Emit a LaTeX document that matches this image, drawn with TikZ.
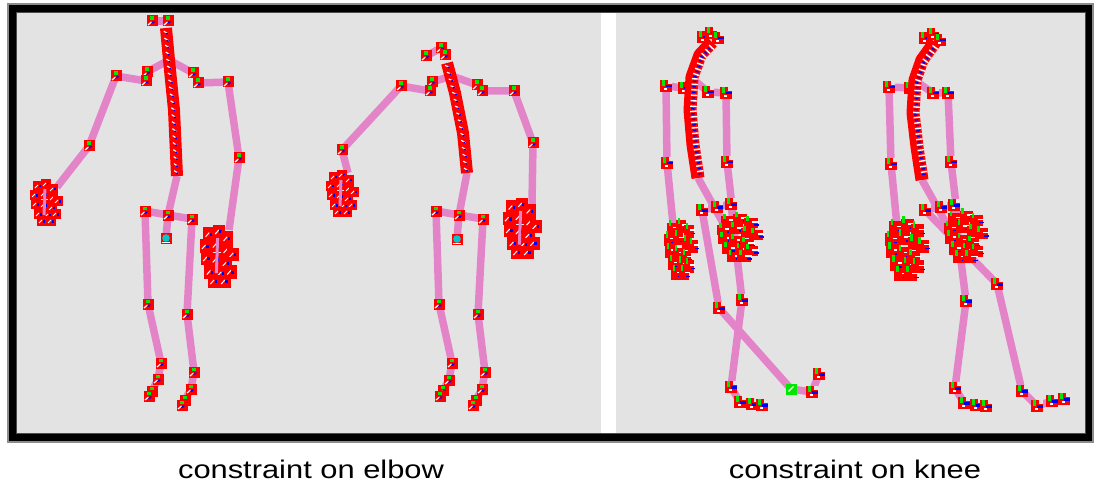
\documentclass[tikz,border=0pt]{standalone}
\usepackage{fontspec}
\setmainfont{Liberation Sans}
\usetikzlibrary{decorations.markings}
\definecolor{jred}{RGB}{255,0,0}
\definecolor{jgreen}{RGB}{0,232,0}
\definecolor{jblue}{RGB}{0,0,240}
\definecolor{jcyan}{RGB}{0,200,205}
\definecolor{bonepink}{RGB}{228,132,200}
\definecolor{floorgray}{RGB}{227,227,227}
\pgfdeclarelayer{bg}
\pgfdeclarelayer{bonelayer}
\pgfsetlayers{bg,bonelayer,main}
\tikzset{
  % joint marker, first pair of figures
  jt/.style={fill=jred, minimum size=11pt, inner sep=0pt, outer sep=0pt, path picture={
     \fill[jgreen] ([xshift=3.5pt,yshift=-1pt]path picture bounding box.north west) rectangle ++(3.5pt,-3.5pt);
     \draw[white,line width=1.2pt] ([xshift=1.5pt,yshift=1.5pt]path picture bounding box.south west) -- ++(3.5pt,3pt);
     \fill[jblue] ([xshift=4.5pt,yshift=3pt]path picture bounding box.south west) -- ++(2.5pt,0pt) -- ++(1.5pt,2pt) -- ++(-2.5pt,0pt) -- cycle;
  }},
  % joint marker, second pair of figures
  jv/.style={fill=jred, minimum size=12pt, inner sep=0pt, outer sep=0pt, path picture={
     \fill[floorgray] ([xshift=-4pt,yshift=-4pt]path picture bounding box.north east) rectangle (path picture bounding box.north east);
     \fill[jgreen] ([xshift=2pt]path picture bounding box.north west) rectangle ++(2.5pt,-6pt);
     \fill[jblue] ([xshift=-6pt,yshift=4.5pt]path picture bounding box.south east) rectangle ++(5.5pt,2.4pt);
     \draw[white,line width=1.3pt] ([xshift=4pt,yshift=3pt]path picture bounding box.south west) -- ++(3pt,0pt);
  }},
  jg/.style={fill=jgreen, minimum size=11pt, inner sep=0pt, outer sep=0pt, path picture={
     \draw[white,line width=1.3pt] ([xshift=3pt,yshift=3pt]path picture bounding box.south west) -- ++(5pt,5pt);
  }},
  rootc/.style={fill=jred, minimum size=11pt, inner sep=0pt, outer sep=0pt, path picture={
     \fill[jcyan] (path picture bounding box.center) circle (3.8pt);
     \draw[white,line width=1pt] ([xshift=1pt,yshift=1.5pt]path picture bounding box.south west) -- ++(8pt,0pt);
  }},
  rootw/.style={fill=jred, minimum size=12pt, inner sep=0pt, outer sep=0pt, path picture={
     \fill[white] ([xshift=2pt,yshift=2pt]path picture bounding box.south west) rectangle ([xshift=-2pt,yshift=-3pt]path picture bounding box.north east);
  }},
  bone/.style={draw=bonepink, line width=7.5pt, line join=round},
  spineA/.style={draw=jred, line width=12pt, line join=round, postaction={decorate}, decoration={markings,
     mark=between positions 0.03 and 0.98 step 7pt with {
        \draw[white,line width=1.1pt] (-1.5pt,-2.5pt) -- (1.5pt,1.5pt);
        \fill[jblue] (0.5pt,-0.5pt) rectangle (2pt,1.5pt);}}},
  spineB/.style={draw=jred, line width=13pt, line join=round, postaction={decorate}, decoration={markings,
     mark=between positions 0.03 and 0.98 step 5.5pt with {
        \draw[white,line width=1.4pt] (0pt,0pt) -- (0pt,6.5pt);
        \draw[jblue,line width=1.4pt] (2.5pt,1pt) -- (2.5pt,4.5pt);}}},
  % clusters of markers for the hands
  handA/.pic={
    \foreach \dx/\dy in {-9/-17,-1/-19,6/-14,-12/-8,-3/-9,6/-5,11/-2,-11/1,-3/2,5/5,-8/11,1/12,9/11,-5/18,4/18}{
      \fill[jred] ({\dx-5},{\dy-5}) rectangle ++(10,10);
      \draw[white,line width=1pt] ({\dx-3},{\dy+2}) -- ++(3,-3);
      \fill[jblue] ({\dx+0.5},{\dy-1}) rectangle ++(2,2.5);
    }
    \draw[bonepink,line width=3pt] (-2,-14) -- (-3,12);
  },
  handB/.pic={
    \foreach \dx/\dy in {-9/-17,0/-19,8/-15,-12/-8,-3/-9,6/-5,12/-3,-11/1,-3/3,5/6,-8/11,1/12,8/13,-5/19,3/19}{
      \fill[jred] ({\dx-5},{\dy-5}) rectangle ++(10,10);
      \fill[jgreen] ({\dx-3.5},{\dy-7}) rectangle ++(2,5);
      \draw[white,line width=1.2pt] ({\dx+1},{\dy-1}) -- ++(5,0);
      \draw[jblue,line width=1.2pt] ({\dx+2},{\dy+2}) -- ++(4,0);
    }
  },
  caption/.style={font=\fontsize{25.5}{30}\selectfont, xscale=1.21, anchor=base, inner sep=0pt}
}
\begin{document}
\begin{tikzpicture}[x=1pt,y=-1pt]
\useasboundingbox (0,0) rectangle (1094,489);
\begin{pgfonlayer}{bg}
  \fill[white] (0,0) rectangle (1094,489);
  \draw[black!45,line width=2pt] (8,4) rectangle (1093,442);
  \fill[black] (9,5) rectangle (1092,441);
  \fill[black!70] (16,12) rectangle (1086,434);
  \fill[floorgray] (17,13) rectangle (1085,433);
  \fill[white] (601,13) rectangle (616,433);
\end{pgfonlayer}

% ---------- figure A ----------
\coordinate (As0) at (166,28); \coordinate (As1) at (169,60);
\coordinate (As2) at (174,110); \coordinate (As3) at (177,176);
\node[jt] (Ah1) at (152,21) {}; \node[jt] (Ah2) at (168,21) {};
\node[jt] (AclL1) at (147,72) {}; \node[jt] (AclL2) at (146,81) {};
\node[jt] (AshL) at (116,76) {}; \node[jt] (AelL) at (89,146) {};
\coordinate (AwrL) at (57,187);
\node[jt] (AclR1) at (193,73) {}; \node[jt] (AclR2) at (198,83) {};
\node[jt] (AshR) at (228,82) {}; \node[jt] (AelR) at (239,158) {};
\coordinate (AwrR) at (229,230);
\node[jt] (Apc) at (168,215) {}; \node[jt] (AhipL) at (145,211) {};
\node[jt] (AhipR) at (192,219) {}; \node[rootc] (Aroot) at (166,238) {};
\node[jt] (AknL) at (148,304) {}; \node[jt] (AanL) at (161,363) {};
\node[jt] (AftL) at (158,379) {}; \node[jt] (AtoL1) at (152,391) {}; \node[jt] (AtoL2) at (149,396) {};
\node[jt] (AknR) at (187,314) {}; \node[jt] (AanR) at (194,372) {};
\node[jt] (AftR) at (191,389) {}; \node[jt] (AtoR1) at (185,400) {}; \node[jt] (AtoR2) at (182,405) {};
\begin{pgfonlayer}{bonelayer}
  \draw[bone] (Ah1.center) -- (Ah2.center);
  \draw[bone] (As1) -- (AclL1.center); \draw[bone] (AclL2.center) -- (AshL.center) -- (AelL.center) -- (AwrL);
  \draw[bone] (As1) -- (AclR1.center); \draw[bone] (AclR2.center) -- (AshR.center) -- (AelR.center) -- (AwrR);
  \draw[bone] (As3) -- (Apc.center) -- (Aroot.center);
  \draw[bone] (AhipL.center) -- (Apc.center) -- (AhipR.center);
  \draw[bone] (AhipL.center) -- (AknL.center) -- (AanL.center) -- (AftL.center) -- (AtoL1.center);
  \draw[bone] (AhipR.center) -- (AknR.center) -- (AanR.center) -- (AftR.center) -- (AtoR1.center);
\end{pgfonlayer}
\draw[spineA] (As0) -- (As1) -- (As2) -- (As3);
\pic at (47,203) {handA};
\pic[xscale=1.2,yscale=1.35] at (220,257) {handA};

% ---------- figure B ----------
\coordinate (Bs0) at (447,63); \coordinate (Bs1) at (455,93);
\coordinate (Bs2) at (463,133); \coordinate (Bs3) at (467,173);
\coordinate (Bneck) at (452,76);
\node[jt] (Bh1) at (426,56) {}; \node[jt] (Bh2) at (441,48) {}; \node[jt] (Bh3) at (445,55) {};
\node[jt] (BclL1) at (432,82) {}; \node[jt] (BclL2) at (430,91) {};
\node[jt] (BshL) at (401,86) {}; \node[jt] (BelL) at (342,150) {};
\coordinate (BwrL) at (348,173);
\node[jt] (BclR1) at (477,85) {}; \node[jt] (BclR2) at (482,91) {};
\node[jt] (BshR) at (514,91) {}; \node[jt] (BelR) at (533,143) {};
\coordinate (BwrR) at (532,204);
\node[jt] (Bpc) at (459,215) {}; \node[jt] (BhipL) at (436,211) {};
\node[jt] (BhipR) at (483,219) {}; \node[rootc] (Broot) at (457,239) {};
\node[jt] (BknL) at (439,304) {}; \node[jt] (BanL) at (452,363) {};
\node[jt] (BftL) at (449,380) {}; \node[jt] (BtoL1) at (443,390) {}; \node[jt] (BtoL2) at (440,396) {};
\node[jt] (BknR) at (478,314) {}; \node[jt] (BanR) at (485,372) {};
\node[jt] (BftR) at (482,389) {}; \node[jt] (BtoR1) at (476,400) {}; \node[jt] (BtoR2) at (473,405) {};
\begin{pgfonlayer}{bonelayer}
  \draw[bone] (Bh1.center) -- (Bh2.center);
  \draw[bone] (Bneck) -- (BclL1.center); \draw[bone] (BclL2.center) -- (BshL.center) -- (BelL.center) -- (BwrL);
  \draw[bone] (Bneck) -- (BclR1.center); \draw[bone] (BclR2.center) -- (BshR.center) -- (BelR.center) -- (BwrR);
  \draw[bone] (Bs3) -- (Bpc.center) -- (Broot.center);
  \draw[bone] (BhipL.center) -- (Bpc.center) -- (BhipR.center);
  \draw[bone] (BhipL.center) -- (BknL.center) -- (BanL.center) -- (BftL.center) -- (BtoL1.center);
  \draw[bone] (BhipR.center) -- (BknR.center) -- (BanR.center) -- (BftR.center) -- (BtoR1.center);
\end{pgfonlayer}
\draw[spineA] (Bs0) -- (Bs1) -- (Bs2) -- (Bs3);
\pic at (343,194) {handA};
\pic[xscale=1.2,yscale=1.3] at (523,229) {handA};

% ---------- figure C ----------
\coordinate (Cs0) at (712,42); \coordinate (Cs1) at (700,55); \coordinate (Cs2) at (692,77);
\coordinate (Cs3) at (690,110); \coordinate (Cs4) at (693,145); \coordinate (Cs5) at (698,178);
\coordinate (Cneck) at (694,80);
\node[jv] (Ch1) at (703,37) {}; \node[jv] (Ch2) at (711,33) {}; \node[jv] (Ch3) at (718,38) {};
\node[jv] (CclL) at (684,88) {}; \node[jv] (CshL) at (666,86) {};
\node[jv] (CelL) at (667,163) {}; \coordinate (CwrL) at (673,224);
\node[jv] (CclR) at (708,92) {}; \node[jv] (CshR) at (726,93) {};
\node[jv] (CelR) at (727,162) {}; \coordinate (CwrR) at (733,215);
\node[jv] (Chip1) at (702,210) {}; \node[jv] (Chip2) at (717,207) {}; \node[jv] (Chip3) at (731,204) {};
\node[rootw] (Croot) at (727,230) {};
\node[jv] (CknL) at (719,308) {}; \node[jg] (CanL) at (791,389) {};
\node[jv] (CftL) at (812,392) {}; \node[jv] (CtoL) at (819,374) {};
\node[jv] (CknR) at (742,300) {}; \node[jv] (CanR) at (731,387) {};
\node[jv] (CftR) at (740,402) {}; \node[jv] (CtoR1) at (752,404) {}; \node[jv] (CtoR2) at (762,405) {};
\begin{pgfonlayer}{bonelayer}
  \draw[bone] (Cneck) -- (CclL.center) -- (CshL.center) -- (CelL.center) -- (CwrL);
  \draw[bone] (Cneck) -- (CclR.center) -- (CshR.center) -- (CelR.center) -- (CwrR);
  \draw[bone] (Cs5) -- (Croot.center);
  \draw[bone] (Chip1.center) -- (Chip2.center) -- (Chip3.center);
  \draw[bone] (Chip1.center) -- (CknL.center) -- (CanL.center) -- (CftL.center) -- (CtoL.center);
  \draw[bone] (Chip3.center) -- (CknR.center) -- (CanR.center) -- (CftR.center) -- (CtoR1.center) -- (CtoR2.center);
\end{pgfonlayer}
\draw[spineB] (Cs0) -- (Cs1) -- (Cs2) -- (Cs3) -- (Cs4) -- (Cs5);
\pic[yscale=1.25] at (681,250) {handB};
\pic[xscale=1.35] at (740,238) {handB};

% ---------- figure D ----------
\coordinate (Ds0) at (935,42); \coordinate (Ds1) at (922,60); \coordinate (Ds2) at (915,80);
\coordinate (Ds3) at (913,113); \coordinate (Ds4) at (917,147); \coordinate (Ds5) at (922,180);
\coordinate (Dneck) at (917,82);
\node[jv] (Dh1) at (925,38) {}; \node[jv] (Dh2) at (933,34) {}; \node[jv] (Dh3) at (940,40) {};
\node[jv] (DclL) at (910,88) {}; \node[jv] (DshL) at (889,87) {};
\node[jv] (DelL) at (891,164) {}; \coordinate (DwrL) at (897,226);
\node[jv] (DclR) at (933,93) {}; \node[jv] (DshR) at (948,93) {};
\node[jv] (DelR) at (951,162) {}; \coordinate (DwrR) at (957,213);
\node[jv] (Dhip1) at (925,210) {}; \node[jv] (Dhip2) at (941,207) {}; \node[jv] (Dhip3) at (954,205) {};
\node[rootw] (Droot) at (951,232) {};
\node[jv] (DknL) at (997,284) {}; \node[jv] (DanL) at (1022,391) {};
\node[jv] (DftL) at (1037,406) {}; \node[jv] (DtoL1) at (1052,401) {}; \node[jv] (DtoL2) at (1064,399) {};
\node[jv] (DknR) at (966,301) {}; \node[jv] (DanR) at (955,388) {};
\node[jv] (DftR) at (964,403) {}; \node[jv] (DtoR1) at (976,405) {}; \node[jv] (DtoR2) at (986,406) {};
\begin{pgfonlayer}{bonelayer}
  \draw[bone] (Dneck) -- (DclL.center) -- (DshL.center) -- (DelL.center) -- (DwrL);
  \draw[bone] (Dneck) -- (DclR.center) -- (DshR.center) -- (DelR.center) -- (DwrR);
  \draw[bone] (Ds5) -- (Droot.center);
  \draw[bone] (Dhip1.center) -- (Dhip2.center) -- (Dhip3.center);
  \draw[bone] (Dhip1.center) -- (DknL.center) -- (DanL.center) -- (DftL.center) -- (DtoL1.center) -- (DtoL2.center);
  \draw[bone] (Dhip3.center) -- (DknR.center) -- (DanR.center) -- (DftR.center) -- (DtoR1.center) -- (DtoR2.center);
\end{pgfonlayer}
\draw[spineB] (Ds0) -- (Ds1) -- (Ds2) -- (Ds3) -- (Ds4) -- (Ds5);
\pic[xscale=1.3,yscale=1.3] at (907,250) {handB};
\pic[xscale=1.3,yscale=1.1] at (966,237) {handB};

% ---------- captions ----------
\node[caption] (capL) at (311,478) {constraint on elbow};
\node[caption] (capR) at (855,478) {constraint on knee};
\end{tikzpicture}
\end{document}
